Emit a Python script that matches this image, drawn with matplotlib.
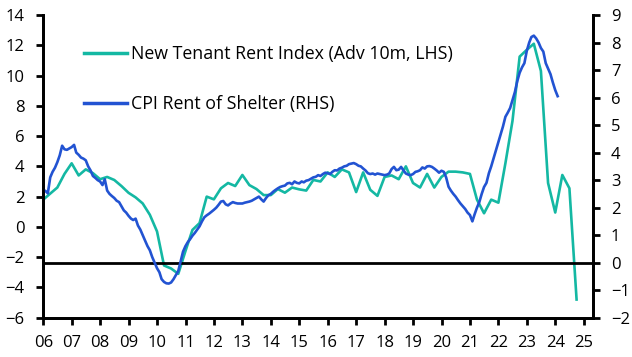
import matplotlib
matplotlib.use("Agg")
import matplotlib.pyplot as plt
import matplotlib.dates as mdates
import pandas as pd

plt.rcParams['font.family'] = ['Open Sans', 'DejaVu Sans']

# New Tenant Rent Index (advanced 10m), quarterly, % y/y, LHS
ntri_start = '2005-12-31'
ntri_values = [
    1.8, 2.2, 2.6, 3.5, 4.2, 3.4, 3.8, 3.55, 3.15,          # Dec05 - Dec07
    3.3, 3.1, 2.7, 2.25,                                     # 2008
    1.95, 1.55, 0.8, -0.3,                                   # 2009
    -2.55, -2.75, -3.1, -1.6,                                # 2010
    -0.2, 0.25, 2.0, 1.82,                                   # 2011
    2.55, 2.9, 2.7, 3.43,                                    # 2012
    2.76, 2.5, 2.1, 2.1,                                     # 2013
    2.5, 2.26, 2.6, 2.48,                                    # 2014
    2.4, 3.1, 3.0, 3.6,                                      # 2015
    3.3, 3.8, 3.6, 2.3,                                      # 2016
    3.6, 2.45, 2.05, 3.3,                                    # 2017
    3.4, 3.15, 4.0, 2.9,                                     # 2018
    2.6, 3.5, 2.6, 3.3,                                      # 2019
    3.65, 3.65, 3.6, 3.5,                                    # 2020
    1.8, 0.9, 1.8, 1.6,                                      # 2021
    4.2, 7.0, 11.25, 11.7,                                   # 2022
    12.1, 10.3, 2.9, 0.95,                                   # 2023
    3.43, 2.55, -4.8,                                        # 2024
]

# CPI Rent of Shelter, monthly, % y/y, RHS
cpi_start = '2005-12-31'
cpi_values = [
    2.65, 2.6, 2.52, 3.1, 3.3, 3.45, 3.65, 3.9, 4.25, 4.12, 4.1, 4.15,
    4.2, 4.28, 4.0, 3.92, 3.82, 3.78, 3.72, 3.5, 3.35, 3.15, 3.08, 3.0,
    2.95, 2.82, 3.03, 2.62, 2.5, 2.42, 2.35, 2.25, 2.2, 2.05, 1.9, 1.82,
    1.7, 1.6, 1.55, 1.6, 1.35, 1.2, 1.0, 0.8, 0.6, 0.45, 0.2, 0.0,
    -0.2, -0.35, -0.6, -0.7, -0.75, -0.76, -0.72, -0.6, -0.45, -0.3, 0.05, 0.4,
    0.6, 0.75, 0.85, 0.98, 1.08, 1.2, 1.32, 1.5, 1.65, 1.72, 1.78, 1.85,
    1.92, 2.0, 2.1, 2.22, 2.24, 2.12, 2.08, 2.15, 2.2, 2.17, 2.15, 2.15,
    2.15, 2.18, 2.2, 2.22, 2.25, 2.3, 2.35, 2.4, 2.3, 2.22, 2.35, 2.45,
    2.5, 2.58, 2.64, 2.7, 2.75, 2.78, 2.8, 2.88, 2.9, 2.85, 2.95, 2.9,
    2.88, 2.95, 2.92, 2.98, 3.0, 3.05, 3.1, 3.12, 3.18, 3.15, 3.22, 3.27,
    3.25, 3.22, 3.3, 3.36, 3.35, 3.42, 3.45, 3.5, 3.52, 3.58, 3.6, 3.62,
    3.58, 3.52, 3.5, 3.42, 3.35, 3.25, 3.22, 3.24, 3.2, 3.24, 3.22, 3.2,
    3.18, 3.2, 3.24, 3.4, 3.48, 3.36, 3.38, 3.48, 3.35, 3.24, 3.2, 3.18,
    3.22, 3.3, 3.32, 3.36, 3.46, 3.42, 3.5, 3.51, 3.48, 3.42, 3.35, 3.27,
    3.34, 3.3, 3.1, 2.76, 2.62, 2.5, 2.4, 2.27, 2.15, 2.05, 1.95, 1.82,
    1.73, 1.5, 1.75, 2.0, 2.2, 2.5, 2.75, 2.9, 3.25, 3.5, 3.8, 4.1,
    4.4, 4.7, 4.95, 5.3, 5.45, 5.62, 5.9, 6.2, 6.6, 6.9, 7.1, 7.25,
    7.7, 8.0, 8.2, 8.25, 8.15, 8.0, 7.8, 7.67, 7.25, 7.05, 6.85, 6.55,
    6.27, 6.05,
]

ntri_label = 'New Tenant Rent Index (Adv 10m, LHS)'
cpi_label = 'CPI Rent of Shelter (RHS)'
year_ticks = list(range(2006, 2026))

teal = '#14B8A3'
blue = '#2253D2'

ntri_dates = pd.date_range(ntri_start, periods=len(ntri_values), freq='QE')
cpi_dates = pd.date_range(cpi_start, periods=len(cpi_values), freq='ME')

fig = plt.figure(figsize=(6.32, 3.57), dpi=100)
ax = fig.add_axes([43.3 / 632, 1 - 317.7 / 357, (592.7 - 43.3) / 632, (317.7 - 15) / 357])
ax2 = ax.twinx()

l1, = ax.plot(ntri_dates, ntri_values, color=teal, lw=1.9, solid_joinstyle='round')
l2, = ax2.plot(cpi_dates, cpi_values, color=blue, lw=1.9, solid_joinstyle='round')
ax2.axhline(0, color='black', lw=2.0, zorder=1)

ax.set_ylim(-6, 14)
ax.set_yticks(range(-6, 15, 2))
ax2.set_ylim(-2, 9)
ax2.set_yticks(range(-2, 10, 1))

ax.set_xlim(pd.Timestamp('2006-01-01'), pd.Timestamp('2025-04-25'))
ax.set_xticks([pd.Timestamp(f'{y}-01-01') for y in year_ticks])
ax.xaxis.set_major_formatter(mdates.DateFormatter('%y'))

for a in (ax, ax2):
    a.spines['top'].set_visible(False)
    for s in ('left', 'right', 'bottom'):
        a.spines[s].set_linewidth(2.0)
        a.spines[s].set_color('black')
    a.tick_params(axis='both', which='major', direction='out', length=5, width=2,
                  labelsize=12, colors='black')
ax.tick_params(axis='y', pad=8.5)
ax2.tick_params(axis='y', pad=8)
ax.tick_params(axis='x', pad=7.5)

leg = ax.legend([l1, l2], [ntri_label, cpi_label], loc='upper left',
                bbox_to_anchor=(84 / 632, 1 - 45 / 357), bbox_transform=fig.transFigure,
                frameon=False, fontsize=12.8, handlelength=2.4, handletextpad=0.22,
                labelspacing=1.8, borderpad=0, borderaxespad=0)
for h in leg.legend_handles:
    h.set_linewidth(2.5)

fig.savefig('out.png', dpi=100)
